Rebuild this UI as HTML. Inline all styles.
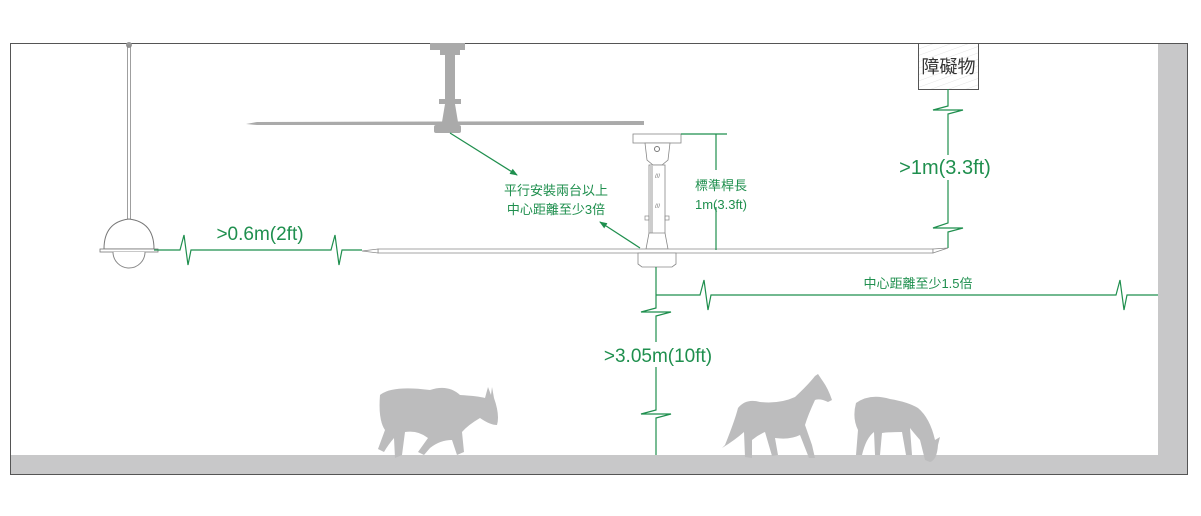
<!DOCTYPE html>
<html><head><meta charset="utf-8"><style>
html,body{margin:0;padding:0;background:#fff;}
svg{display:block;}
text{font-family:"Liberation Sans","Noto Sans CJK TC",sans-serif;}
</style></head><body>
<svg width="1201" height="516" viewBox="0 0 1201 516" xmlns="http://www.w3.org/2000/svg">
<defs>
<pattern id="h" width="6" height="6" patternUnits="userSpaceOnUse" patternTransform="rotate(-20)">
<line x1="0" y1="0" x2="6" y2="0" stroke="#e4e4e4" stroke-width="1"/></pattern>
<marker id="ar" markerWidth="8" markerHeight="8" refX="7" refY="4" orient="auto" markerUnits="userSpaceOnUse">
<path d="M0,1 L8,4 L0,7 Z" fill="#1f8f4e"/></marker>
</defs>
<!-- walls -->
<rect x="1158" y="43" width="30" height="432" fill="#c8c8c9"/>
<rect x="10" y="455" width="1178" height="20" fill="#c8c8c9"/>
<rect x="10.5" y="43.5" width="1177" height="431" fill="none" stroke="#555" stroke-width="1"/>

<!-- lamp -->
<circle cx="129" cy="45" r="3" fill="#999"/>
<rect x="127.5" y="46" width="3" height="174" fill="none" stroke="#888" stroke-width="0.8"/>
<path d="M104,249 Q104,222 129,219 Q154,222 154,249 Z" fill="#fff" stroke="#777"/>
<rect x="100" y="249" width="58" height="3" fill="#fff" stroke="#777" stroke-width="0.8"/>
<path d="M113,252 A13,13 0 0 0 145,252" fill="#fff" stroke="#888"/>

<!-- gray fan -->
<rect x="430" y="43" width="35" height="7" fill="#aaa"/>
<rect x="440" y="50" width="20" height="5" fill="#aaa"/>
<rect x="445" y="55" width="10" height="45" fill="#aaa"/>
<rect x="439" y="99" width="22" height="5" fill="#aaa"/>
<path d="M445,104 L455,104 L458,122 L442,122 Z" fill="#aaa"/>
<path d="M257,122 L644,121 L644,125 L257,125 L246,124 Z" fill="#aaa"/>
<rect x="434" y="125" width="27" height="8" rx="2" fill="#aaa"/>

<!-- outline fan -->
<rect x="633" y="134" width="48" height="9" fill="#fff" stroke="#888" stroke-width="0.8"/>
<path d="M645,143 L670,143 L668,160 L662,165 L653,165 L647,160 Z" fill="#fff" stroke="#888" stroke-width="0.8"/>
<circle cx="657" cy="149" r="2.5" fill="none" stroke="#777"/>
<rect x="649" y="165" width="16" height="78" fill="#fff" stroke="#888" stroke-width="0.8"/>
<rect x="650" y="165" width="3" height="78" fill="#ccc"/>
<rect x="645" y="216" width="4" height="4" fill="none" stroke="#888" stroke-width="0.7"/>
<rect x="665" y="216" width="4" height="4" fill="none" stroke="#888" stroke-width="0.7"/>
<text x="655" y="178" font-size="6" fill="#666">///</text>
<text x="655" y="208" font-size="6" fill="#666">///</text>
<path d="M649,233 L665,233 L668,249 L646,249 Z" fill="#fff" stroke="#888" stroke-width="0.8"/>
<path d="M378,249 L933,249 L933,253 L378,253 Z" fill="#fff" stroke="#888" stroke-width="0.8"/>
<path d="M362,251 L378,249 L378,253 Z" fill="#fff" stroke="#888" stroke-width="0.7"/>
<path d="M933,249 L948,248 L933,253 Z" fill="#fff" stroke="#888" stroke-width="0.7"/>
<path d="M638,253 L676,253 L676,264 L672,267 L642,267 L638,264 Z" fill="#fff" stroke="#888" stroke-width="0.8"/>

<!-- obstacle -->
<rect x="918.5" y="43.5" width="60" height="46" fill="url(#h)" stroke="#555" stroke-width="1"/>
<text x="948.5" y="73" font-size="18" fill="#333" text-anchor="middle">障礙物</text>

<g stroke="#1f8f4e" stroke-width="1.2" fill="none">
<!-- 0.6m -->
<path d="M154,250 L180,250 L184,235 L188,265 L191,250 L331,250 L335,235 L339,265 L342,250 L362,250"/>
<!-- arrows -->
<line x1="450" y1="133" x2="517" y2="175" marker-end="url(#ar)"/>
<line x1="640" y1="248" x2="600" y2="222" marker-end="url(#ar)"/>
<!-- standard rod -->
<line x1="681" y1="134" x2="727" y2="134"/>
<path d="M716,134 L716,170 M716,207 L716,250"/>
<!-- 1m obstacle -->
<path d="M948,89 L948,106 L933,110 L963,110 L948,114 L948,155 M948,180 L948,223 L933,228 L963,228 L948,232 L948,248"/>
<!-- 3.05 -->
<path d="M656,267 L656,308 L641,312 L671,312 L656,316 L656,342 M656,367 L656,410 L641,414 L671,414 L656,418 L656,455"/>
<!-- 1.5x -->
<path d="M656,295 L700,295 L704,280 L708,310 L711,295 L1116,295 L1120,280 L1124,310 L1127,295 L1158,295"/>
</g>

<g fill="#1f8f4e">
<text x="260" y="240" font-size="19" text-anchor="middle">&gt;0.6m(2ft)</text>
<text x="556" y="195" font-size="13" text-anchor="middle">平行安裝兩台以上</text>
<text x="556" y="214" font-size="13" text-anchor="middle">中心距離至少3倍</text>
<text x="721" y="190" font-size="13" text-anchor="middle">標準桿長</text>
<text x="721" y="209" font-size="13" text-anchor="middle">1m(3.3ft)</text>
<text x="945" y="174" font-size="20" text-anchor="middle">&gt;1m(3.3ft)</text>
<text x="658" y="362" font-size="19" text-anchor="middle">&gt;3.05m(10ft)</text>
<text x="918" y="288" font-size="13" text-anchor="middle">中心距離至少1.5倍</text>
</g>

<!-- animals -->
<g fill="#bcbcbd">
<path d="M380,395 Q392,385 430,390 Q448,384 460,395 Q478,396 485,398 L488,387 L491,395 L492,387 L494,398 Q500,415 497,425 Q490,425 480,418 Q468,425 462,432 L464,452 L457,455 L452,440 Q440,440 430,448 L424,455 L418,452 L428,438 Q418,430 405,432 L402,455 L395,458 L394,438 Q388,445 384,452 L378,449 L385,430 Q378,420 380,395 Z"/>
<path d="M725,445 Q735,420 738,408 Q746,398 760,402 Q780,404 795,397 Q808,385 815,376 L818,374 L822,380 Q828,388 832,400 L828,402 Q820,398 815,400 Q808,415 805,425 L812,445 L815,458 L809,458 L800,435 Q790,440 775,438 L778,455 L772,456 L765,432 Q758,435 752,440 L752,458 L745,457 L744,432 Q735,440 722,448 Z"/>
<path d="M856,403 Q870,393 890,399 Q908,402 918,408 Q930,418 935,440 L940,437 L938,445 Q937,460 930,462 L925,460 L920,440 Q913,432 910,428 L912,455 L906,455 L902,432 Q890,432 882,433 L880,455 L875,455 L874,432 Q866,438 862,455 L856,455 L858,430 Q852,418 856,403 Z"/>
</g>
</svg>
</body></html>
